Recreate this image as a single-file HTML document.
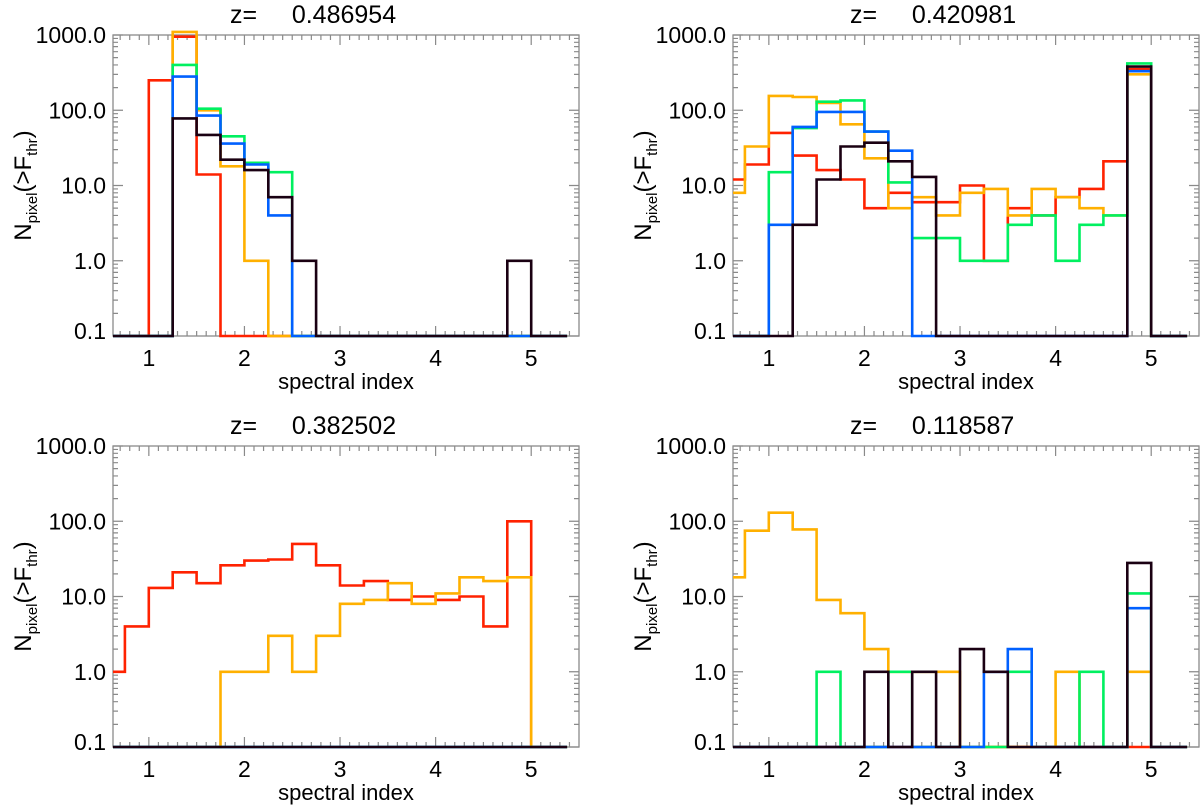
<!DOCTYPE html>
<html><head><meta charset="utf-8">
<style>
html,body{margin:0;padding:0;background:#fff;}
svg{display:block;font-family:"Liberation Sans",sans-serif;}
.ttl{white-space:pre;}
</style></head>
<body>
<svg id="fig" width="1200" height="805" viewBox="0 0 1200 805" xmlns="http://www.w3.org/2000/svg"></svg>
<script>
// bin centers 0.625 ... 5.375 step 0.25
const binCenters = [0.625,0.875,1.125,1.375,1.625,1.875,2.125,2.375,2.625,2.875,3.125,3.375,3.625,3.875,4.125,4.375,4.625,4.875,5.125,5.375];
const xTicks = [1,2,3,4,5];
const yTicks = [0.1,1,10,100,1000];
const yTickLabels = ["0.1","1.0","10.0","100.0","1000.0"];
const titles = ["z=     0.486954","z=     0.420981","z=     0.382502","z=     0.118587"];

// panel 1
const p1Red    = [0,0,250,950,14,0,0,0,0,0,0,0,0,0,0,0,0,0,0,0];
const p1Orange = [0,0,0,1100,100,18,1,0,0,0,0,0,0,0,0,0,0,0,0,0];
const p1Green  = [0,0,0,400,105,45,20,15,0,0,0,0,0,0,0,0,0,0,0,0];
const p1Blue   = [0,0,0,280,85,36,19,4,0,0,0,0,0,0,0,0,0,0,0,0];
const p1Black  = [0,0,0,78,47,22,16,7,1,0,0,0,0,0,0,0,0,1,0,0];
// panel 2
const p2Red    = [12,19,50,25,16,12,5,8,6,6,10,1,5,4,7,9,21,350,0,0];
const p2Orange = [8,33,155,150,125,65,23,5,7,4,8,9,4,9,7,5,4,300,0,0];
const p2Green  = [0,0,15,58,130,135,52,11,2,2,1,1,3,4,1,3,4,420,0,0];
const p2Blue   = [0,0,3,60,95,95,52,29,0,0,0,0,0,0,0,0,0,330,0,0];
const p2Black  = [0,0,0,3,12,33,37,21,13,0,0,0,0,0,0,0,0,380,0,0];
// panel 3
const p3Red    = [1,4,13,21,15,26,30,31,50,26,14,16,9,10,9,10,4,100,0,0];
const p3Orange = [0,0,0,0,0,1,1,3,1,3,8,9,15,8,11,18,16,18,0,0];
const p3Green  = [0,0,0,0,0,0,0,0,0,0,0,0,0,0,0,0,0,0,0,0];
const p3Blue   = [0,0,0,0,0,0,0,0,0,0,0,0,0,0,0,0,0,0,0,0];
const p3Black  = [0,0,0,0,0,0,0,0,0,0,0,0,0,0,0,0,0,0,0,0];
// panel 4
const p4Red    = [0,0,0,0,0,0,0,0,0,0,0,0,0,0,0,0,0,0,0,0];
const p4Orange = [18,75,130,78,9,6,2,1,1,1,0,0,0,0,1,0,0,1,0,0];
const p4Green  = [0,0,0,0,1,0,0,1,0,0,0,0,1,0,0,1,0,11,0,0];
const p4Blue   = [0,0,0,0,0,0,0,0,0,0,0,1,2,0,0,0,0,7,0,0];
const p4Black  = [0,0,0,0,0,0,1,0,1,0,2,1,0,0,0,0,0,28,0,0];

const colors = {red:"#ff2200",orange:"#ffb000",green:"#00f060",blue:"#0060ff",black:"#1a0012"};
const NS="http://www.w3.org/2000/svg";
const svg=document.getElementById('fig');
function mk(tag,attrs,parent){const e=document.createElementNS(NS,tag);for(const k in attrs)e.setAttribute(k,attrs[k]);(parent||svg).appendChild(e);return e;}

const XMIN=0.625,XMAX=5.5,YMIN=0.1,YMAX=1000;
function panel(ox,oy,title,series){
  const L=113+ox,R=579+ox,T=35+oy,B=336+oy;
  const sx=v=>L+(v-XMIN)/(XMAX-XMIN)*(R-L);
  const sy=v=>{const c=Math.max(v,YMIN);return B-(Math.log10(c)-Math.log10(YMIN))/(Math.log10(YMAX)-Math.log10(YMIN))*(B-T);};
  const g=mk('g',{});
  
  
  const t=mk('text',{x:230+ox,y:23+oy,'font-size':25,fill:'#000','class':'ttl'},g);
  t.textContent=title;
  
  
  // frame
  const fr=mk('rect',{x:L,y:T,width:R-L,height:B-T,fill:'none',stroke:'#8a8a8a','stroke-width':1.3},g);
  
  
  let td='';
  for(let v=0.7;v<=5.45;v+=0.1){const x=sx(v);const maj=Math.abs(v-Math.round(v))<0.01;const l=maj?10:5;td+=`M${x},${B}v${-l}M${x},${T}v${l}`;}
  for(let e=-1;e<3;e++){for(let m=1;m<=9;m++){const v=m*Math.pow(10,e);const y=sy(v);const l=m===1?10:5;td+=`M${L},${y}h${l}M${R},${y}h${-l}`;}}
  td+=`M${L},${T}h10M${R},${T}h-10`;
  mk('path',{d:td,stroke:'#8a8a8a','stroke-width':1.2,fill:'none'},g);
  // series
  series.forEach(([name,vals])=>{
    let d='';
    const h=0.125;
    vals.forEach((v,i)=>{
      const x0=Math.max(binCenters[i]-h,XMIN), x1=binCenters[i]+h>5.375?5.375:binCenters[i]+h;
      const y=sy(v);
      d+=(i===0?'M':'L')+sx(x0).toFixed(1)+','+y.toFixed(1)+'L'+sx(x1).toFixed(1)+','+y.toFixed(1);
    });
    const p=mk('path',{d:d,fill:'none',stroke:colors[name],'stroke-width':2.6,'stroke-linejoin':'miter'},g);
    
    
  });
  xTicks.forEach(v=>{const tx=mk('text',{x:sx(v),y:B+30,'font-size':23,'text-anchor':'middle',fill:'#000'},g);tx.textContent=String(v);
    
    });
  yTicks.forEach((v,i)=>{const ty=mk('text',{x:L-7,y:sy(v)+(i===0?3:8),'font-size':23,'text-anchor':'end',fill:'#000'},g);ty.textContent=yTickLabels[i];
    
    });
  const xt=mk('text',{x:(L+R)/2,y:B+53,'font-size':22,'text-anchor':'middle',fill:'#000'},g);
  xt.textContent='spectral index';
  
  
  const yt=mk('text',{transform:`translate(${L-82},${(T+B)/2}) rotate(-90)`,'font-size':24,'text-anchor':'middle',fill:'#000'},g);
  yt.innerHTML='N<tspan font-size="15" dy="6">pixel</tspan><tspan dy="-6">(&gt;F</tspan><tspan font-size="15" dy="6">thr</tspan><tspan dy="-6">)</tspan>';
  
  
}
panel(0,0,titles[0],[['red',p1Red],['orange',p1Orange],['green',p1Green],['blue',p1Blue],['black',p1Black]]);
panel(620,0,titles[1],[['red',p2Red],['orange',p2Orange],['green',p2Green],['blue',p2Blue],['black',p2Black]]);
panel(0,411,titles[2],[['red',p3Red],['orange',p3Orange],['green',p3Green],['blue',p3Blue],['black',p3Black]]);
panel(620,411,titles[3],[['red',p4Red],['orange',p4Orange],['green',p4Green],['blue',p4Blue],['black',p4Black]]);
</script>
</body></html>
